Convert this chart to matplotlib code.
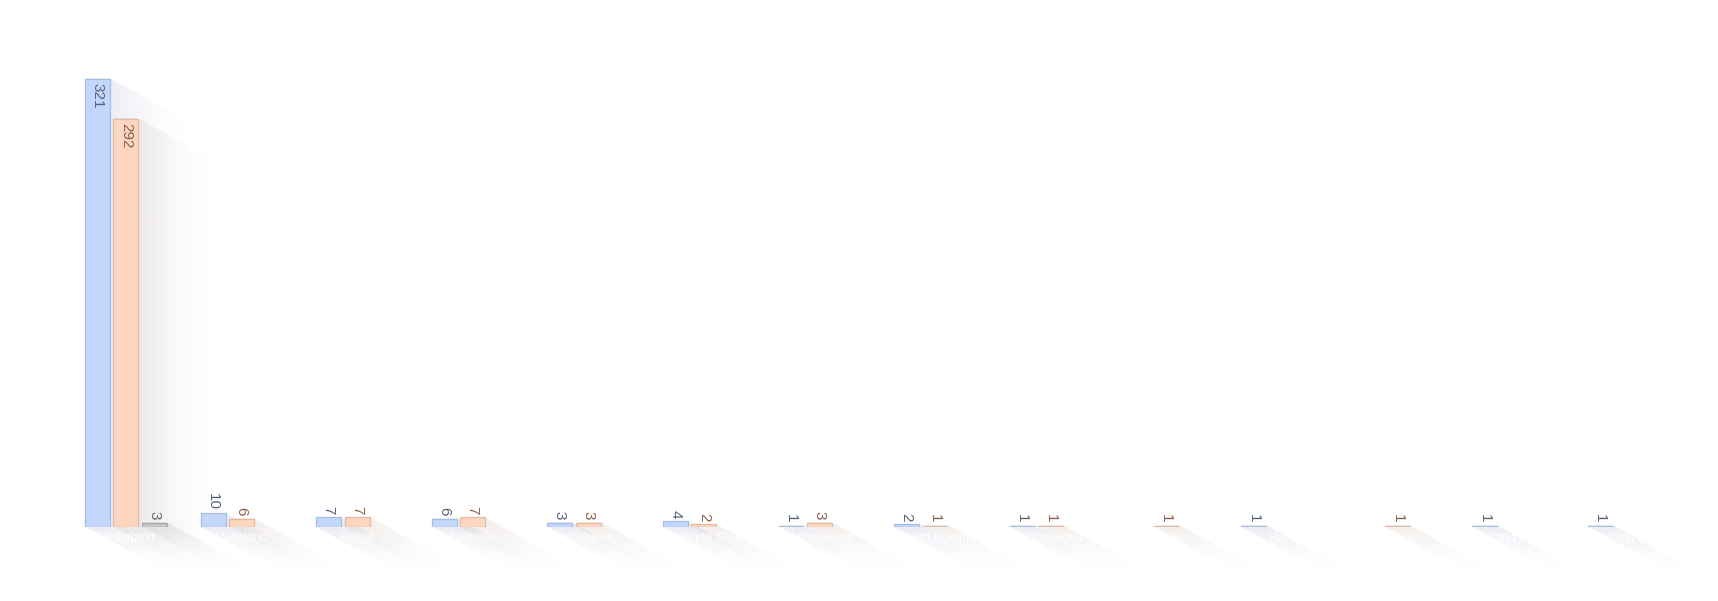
import numpy as np
import matplotlib.pyplot as plt
from matplotlib.colors import to_rgb

categories = ["Nederland", "Duitsland", "België", "Australië", "Indonesië",
              "Verenigde Staten", "Netherlands", "Verenigd Koninkrijk", "Noorwegen",
              "Frans", "Haïti", "India", "Nederland (Midden)", "Nederland (Noord)"]
series_a = [321, 10, 7, 6, 3, 4, 1, 2, 1, 0, 1, 0, 1, 1]
series_b = [292, 6, 7, 7, 3, 2, 3, 1, 1, 1, 0, 1, 0, 0]
series_c = [3, 0, 0, 0, 0, 0, 0, 0, 0, 0, 0, 0, 0, 0]

fills = ["#c2d7fb", "#fdd6bf", "#c6c7cc"]
edges = ["#a7bde2", "#e2bba5", "#a9aab0"]
shadow_cols = ["#aeb6cc", "#cdbcb2", "#b4b4b8"]
text_cols = ["#56637d", "#87614f", "#66666a"]

SLOT = 0.2457
BAR_W = 0.216
PX_Y = 1.397          # pixels per y unit
DX = 0.72             # shadow offset in x (data units)
DY = 46 / PX_Y        # shadow offset in y (data units)


def draw_shadow(ax, x0, x1, y0, y1, color, amax=0.24):
    ex0, ex1 = x0, x1 + DX
    ey0, ey1 = y0 - DY, y1
    nx = 160
    ny = int(max(80, (ey1 - ey0) * PX_Y))
    xs = np.linspace(ex0, ex1, nx)
    ys = np.linspace(ey0, ey1, ny)
    X, Y = np.meshgrid(xs, ys)
    t = np.maximum.reduce([np.zeros_like(X), (X - x1) / DX, (y0 - Y) / DY])
    tmax = np.minimum.reduce([(X - x0) / DX, (y1 - Y) / DY, np.ones_like(X)])
    alpha = np.where(t <= tmax, amax * (1 - t) ** 1.8, 0.0)
    img = np.zeros((ny, nx, 4))
    img[..., :3] = to_rgb(color)
    img[..., 3] = alpha
    ax.imshow(img, extent=(ex0, ex1, ey0, ey1), origin="lower", aspect="auto",
              interpolation="bilinear", zorder=1, clip_on=False)


def main():
    fig = plt.figure(figsize=(17.18, 6.01), dpi=100)
    ax = fig.add_axes([0.0396, 0.1231, 0.942, 0.8137])
    plt.rcParams["font.family"] = ["Liberation Sans", "DejaVu Sans"]

    all_series = [series_a, series_b, series_c]
    for s, values in enumerate(all_series):
        for i, v in enumerate(values):
            if v == 0:
                continue
            xc = i + (s - 1) * SLOT
            x0, x1 = xc - BAR_W / 2, xc + BAR_W / 2
            draw_shadow(ax, x0, x1, 0, v, shadow_cols[s])
            ax.bar(xc, v, width=BAR_W, color=fills[s], edgecolor=edges[s],
                   linewidth=0.9, zorder=2)
            if v > 20:
                ax.text(xc, v - 4 / PX_Y, str(v), rotation=-90, ha="center",
                        va="top", fontsize=11, color=text_cols[s], zorder=4)
            else:
                ax.text(xc, v + 3 / PX_Y, str(v), rotation=-90, ha="center",
                        va="bottom", fontsize=11, color=text_cols[s], zorder=4)

    for i, name in enumerate(categories):
        ax.text(i, -11 / PX_Y, name, ha="center", va="center", fontsize=9,
                color="white", zorder=4, clip_on=False)

    ax.set_xlim(-0.5, len(categories) - 0.5)
    ax.set_ylim(0, 350)
    ax.tick_params(left=False, bottom=False, labelleft=False, labelbottom=False)
    for sp in ax.spines.values():
        sp.set_visible(False)

    fig.savefig("out.png", dpi=100)


if __name__ == "__main__":
    main()
